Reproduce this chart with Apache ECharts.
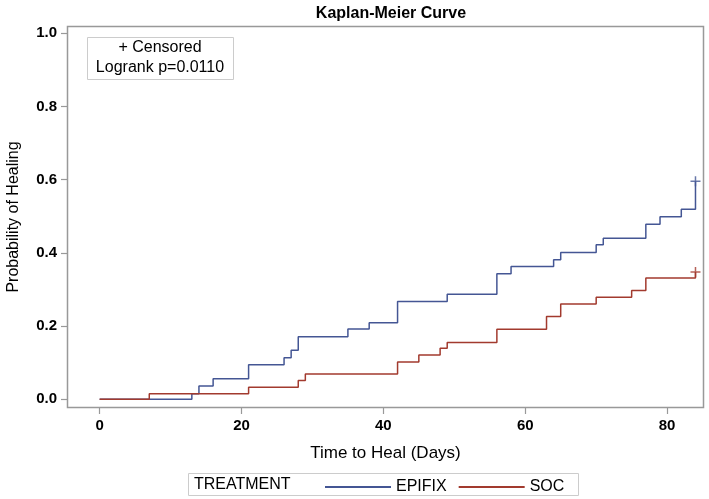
<!DOCTYPE html>
<html>
<head>
<meta charset="utf-8">
<script src="https://cdn.jsdelivr.net/npm/echarts@6/dist/echarts.min.js"></script>
<style>html,body{margin:0;padding:0;background:#fff}#c{width:709px;height:499px}</style>
</head>
<body>
<div id="c"></div>
<script>
// Kaplan-Meier step data (days, cumulative probability of healing)
const epifixDays = [0, 13, 14, 16, 21, 26, 27, 28, 35, 38, 42, 49, 56, 58, 64, 65, 70, 71, 77, 79, 82, 84];
const epifixProb = [0, 0.015, 0.036, 0.056, 0.094, 0.113, 0.134, 0.171, 0.192, 0.209, 0.267, 0.287, 0.343, 0.363, 0.381, 0.401, 0.422, 0.440, 0.478, 0.499, 0.519, 0.596];
const socDays = [0, 7, 21, 28, 29, 42, 45, 48, 49, 56, 63, 65, 70, 75, 77, 84];
const socProb = [0, 0.015, 0.033, 0.051, 0.069, 0.102, 0.121, 0.139, 0.155, 0.191, 0.226, 0.260, 0.279, 0.297, 0.331, 0.348];
const censorEpifix = [[84, 0.596]];
const censorSoc = [[84, 0.348]];
const xTicks = [0, 20, 40, 60, 80];
const yTicks = [0, 0.2, 0.4, 0.6, 0.8, 1.0];

const BLUE = '#445694', RED = '#A23A2E';
const FONT = 'Liberation Sans, Arial, sans-serif';
const pair = (xs, ys) => xs.map((x, i) => [x, ys[i]]);
const plus = 'path://M0,5L10,5M5,0L5,10';

const chart = echarts.init(document.getElementById('c'));
chart.setOption({
  animation: false,
  title: {
    text: 'Kaplan-Meier Curve', left: 386, top: 1, textAlign: 'center',
    textStyle: {fontFamily: FONT, fontSize: 16, fontWeight: 'bold', color: '#000'}
  },
  grid: {left: 67, right: 5, top: 26, bottom: 91, outerBoundsMode: 'none', containLabel: false},
  xAxis: {
    type: 'value', min: -4.6, max: 85.2,
    name: 'Time to Heal (Days)', nameLocation: 'middle', nameGap: 37,
    nameTextStyle: {fontFamily: FONT, fontSize: 17, color: '#000'},
    axisLine: {show: false, onZero: false},
    axisTick: {show: true, length: 6, customValues: xTicks, lineStyle: {color: '#999', width: 1.2}},
    axisLabel: {customValues: xTicks, fontFamily: FONT, fontSize: 15, fontWeight: 'bold', color: '#000', margin: 10},
    splitLine: {show: false}
  },
  yAxis: {
    type: 'value', min: -0.024, max: 1.02,
    name: 'Probability of Healing', nameLocation: 'middle', nameGap: 45, nameRotate: 90,
    nameTextStyle: {fontFamily: FONT, fontSize: 16, color: '#000'},
    axisLine: {show: false, onZero: false},
    axisTick: {show: true, length: 6, customValues: yTicks, lineStyle: {color: '#999', width: 1.2}},
    axisLabel: {customValues: yTicks, fontFamily: FONT, fontSize: 15, fontWeight: 'bold', color: '#000', margin: 10,
      formatter: v => v.toFixed(1)},
    splitLine: {show: false}
  },
  legend: {
    data: ['EPIFIX', 'SOC'], left: 320, top: 474,
    icon: 'rect', itemWidth: 66, itemHeight: 2, itemGap: 12,
    textStyle: {fontFamily: FONT, fontSize: 16, color: '#000'}
  },
  graphic: [
    {type: 'rect', shape: {x: 67.5, y: 26.5, width: 636, height: 381}, style: {fill: 'none', stroke: '#999', lineWidth: 1.5}, silent: true, z: 10},
    {type: 'rect', shape: {x: 87.5, y: 37.5, width: 146, height: 42}, style: {fill: '#fff', stroke: '#ccc', lineWidth: 1}},
    {type: 'text', style: {x: 160, y: 48, text: '+ Censored', fontFamily: FONT, fontSize: 16, fill: '#000', align: 'center', verticalAlign: 'middle'}},
    {type: 'text', style: {x: 160, y: 68, text: 'Logrank p=0.0110', fontFamily: FONT, fontSize: 16, fill: '#000', align: 'center', verticalAlign: 'middle'}},
    {type: 'rect', shape: {x: 188.5, y: 473.5, width: 390, height: 22}, style: {fill: 'none', stroke: '#ccc', lineWidth: 1}},
    {type: 'text', style: {x: 194, y: 485, text: 'TREATMENT', fontFamily: FONT, fontSize: 16, fill: '#000', verticalAlign: 'middle'}}
  ],
  series: [
    {name: 'EPIFIX', type: 'line', step: 'end', data: pair(epifixDays, epifixProb), showSymbol: false,
      lineStyle: {color: BLUE, width: 1.5}, itemStyle: {color: BLUE}},
    {name: 'SOC', type: 'line', step: 'end', data: pair(socDays, socProb), showSymbol: false,
      lineStyle: {color: RED, width: 1.5}, itemStyle: {color: RED}},
    {name: 'EPIFIX', type: 'scatter', data: censorEpifix, symbol: plus, symbolSize: 10,
      itemStyle: {color: 'none', borderColor: BLUE, borderWidth: 1.5}},
    {name: 'SOC', type: 'scatter', data: censorSoc, symbol: plus, symbolSize: 10,
      itemStyle: {color: 'none', borderColor: RED, borderWidth: 1.5}}
  ]
});
</script>
</body>
</html>
